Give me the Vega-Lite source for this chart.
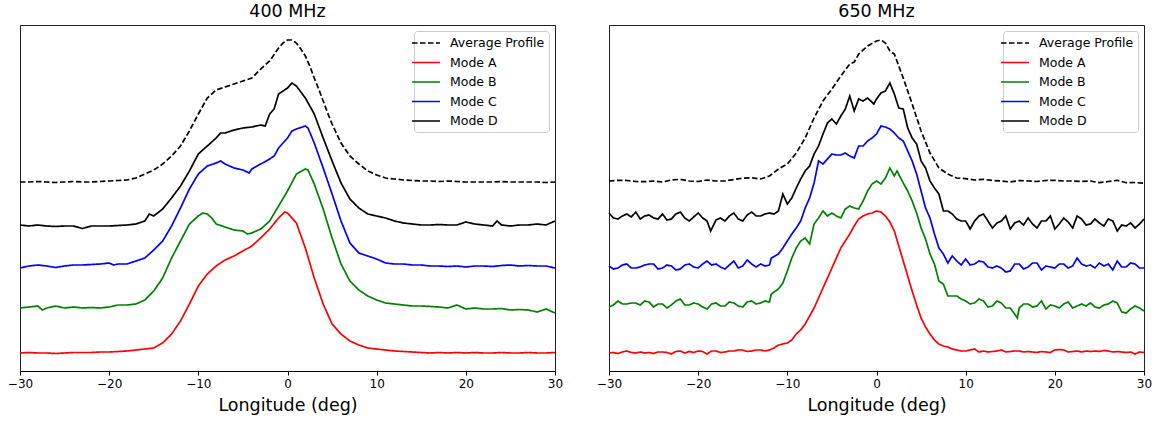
{
"$schema":"https://vega.github.io/schema/vega-lite/v6.json",
"padding":{"left":6,"top":2,"right":5,"bottom":4},
"bounds":"flush",
"spacing":54,
"config":{"font":"DejaVu Sans","view":{"stroke":"#222222","strokeWidth":1},
"title":{"fontWeight":"normal","fontSize":17.5,"color":"#000000"},
"legend":{"orient":"top-right","offset":6,"padding":4,"strokeColor":"#cccccc","fillColor":"rgba(255,255,255,0.8)","cornerRadius":3,"symbolType":"M-2,0H2","symbolSize":196,"symbolStrokeWidth":1.7,"labelFontSize":12.5,"labelColor":"#000000","labelOffset":16,"rowPadding":4.5}},
"resolve":{"scale":{"color":"independent","strokeDash":"independent","x":"independent","y":"independent"},"legend":{"color":"independent","strokeDash":"independent"}},
"datasets":{
"f400":[
{"s":"Average Profile","x":-30,"y":189},{"s":"Average Profile","x":-29,"y":189},{"s":"Average Profile","x":-28,"y":189.5},{"s":"Average Profile","x":-27,"y":189},{"s":"Average Profile","x":-26,"y":188.5},{"s":"Average Profile","x":-25,"y":189},{"s":"Average Profile","x":-24,"y":189.5},{"s":"Average Profile","x":-23,"y":189},{"s":"Average Profile","x":-22,"y":189},{"s":"Average Profile","x":-21,"y":189.5},{"s":"Average Profile","x":-20,"y":190},{"s":"Average Profile","x":-19,"y":190.5},{"s":"Average Profile","x":-18,"y":191},{"s":"Average Profile","x":-17,"y":193},{"s":"Average Profile","x":-16,"y":197},{"s":"Average Profile","x":-15,"y":201},{"s":"Average Profile","x":-14,"y":207},{"s":"Average Profile","x":-13,"y":215},{"s":"Average Profile","x":-12,"y":225},{"s":"Average Profile","x":-11,"y":240},{"s":"Average Profile","x":-10,"y":257},{"s":"Average Profile","x":-9,"y":273},{"s":"Average Profile","x":-8,"y":281},{"s":"Average Profile","x":-7,"y":284},{"s":"Average Profile","x":-6,"y":287},{"s":"Average Profile","x":-5,"y":290},{"s":"Average Profile","x":-4,"y":293},{"s":"Average Profile","x":-3,"y":302},{"s":"Average Profile","x":-2,"y":310},{"s":"Average Profile","x":-1,"y":323},{"s":"Average Profile","x":-0.5,"y":328},{"s":"Average Profile","x":0,"y":331},{"s":"Average Profile","x":0.5,"y":331},{"s":"Average Profile","x":1,"y":328},{"s":"Average Profile","x":1.5,"y":322},{"s":"Average Profile","x":2,"y":315},{"s":"Average Profile","x":2.5,"y":305},{"s":"Average Profile","x":3,"y":293},{"s":"Average Profile","x":3.5,"y":282},{"s":"Average Profile","x":4,"y":270},{"s":"Average Profile","x":4.5,"y":258},{"s":"Average Profile","x":5,"y":247},{"s":"Average Profile","x":6,"y":228},{"s":"Average Profile","x":7,"y":215},{"s":"Average Profile","x":8,"y":207},{"s":"Average Profile","x":9,"y":200},{"s":"Average Profile","x":10,"y":196},{"s":"Average Profile","x":11,"y":193},{"s":"Average Profile","x":12,"y":192},{"s":"Average Profile","x":13,"y":191},{"s":"Average Profile","x":14,"y":190.5},{"s":"Average Profile","x":15,"y":190},{"s":"Average Profile","x":16,"y":190},{"s":"Average Profile","x":17,"y":189.5},{"s":"Average Profile","x":18,"y":190},{"s":"Average Profile","x":19,"y":189.5},{"s":"Average Profile","x":20,"y":189},{"s":"Average Profile","x":21,"y":189},{"s":"Average Profile","x":22,"y":189},{"s":"Average Profile","x":23,"y":189},{"s":"Average Profile","x":24,"y":189.5},{"s":"Average Profile","x":25,"y":189},{"s":"Average Profile","x":26,"y":189},{"s":"Average Profile","x":27,"y":189},{"s":"Average Profile","x":28,"y":189},{"s":"Average Profile","x":29,"y":188.5},{"s":"Average Profile","x":30,"y":189},
{"s":"Mode D","x":-30,"y":146},{"s":"Mode D","x":-29,"y":145},{"s":"Mode D","x":-28,"y":146},{"s":"Mode D","x":-27,"y":145},{"s":"Mode D","x":-26,"y":144.5},{"s":"Mode D","x":-25,"y":145},{"s":"Mode D","x":-24,"y":145},{"s":"Mode D","x":-23,"y":142.5},{"s":"Mode D","x":-22,"y":145},{"s":"Mode D","x":-21,"y":145},{"s":"Mode D","x":-20,"y":145},{"s":"Mode D","x":-19,"y":145.5},{"s":"Mode D","x":-18,"y":146},{"s":"Mode D","x":-17,"y":147},{"s":"Mode D","x":-16,"y":150},{"s":"Mode D","x":-15.5,"y":157},{"s":"Mode D","x":-15,"y":155},{"s":"Mode D","x":-14,"y":162},{"s":"Mode D","x":-13,"y":173},{"s":"Mode D","x":-12,"y":185},{"s":"Mode D","x":-11,"y":200},{"s":"Mode D","x":-10,"y":217},{"s":"Mode D","x":-9,"y":225},{"s":"Mode D","x":-8,"y":233},{"s":"Mode D","x":-7.5,"y":238},{"s":"Mode D","x":-7,"y":238},{"s":"Mode D","x":-6,"y":241},{"s":"Mode D","x":-5,"y":243},{"s":"Mode D","x":-4,"y":244},{"s":"Mode D","x":-3,"y":246},{"s":"Mode D","x":-2.5,"y":245},{"s":"Mode D","x":-2,"y":257},{"s":"Mode D","x":-1.5,"y":262},{"s":"Mode D","x":-1,"y":277},{"s":"Mode D","x":0,"y":283},{"s":"Mode D","x":0.5,"y":288},{"s":"Mode D","x":1,"y":285},{"s":"Mode D","x":2,"y":273},{"s":"Mode D","x":3,"y":257},{"s":"Mode D","x":4,"y":233},{"s":"Mode D","x":5,"y":210},{"s":"Mode D","x":6,"y":188},{"s":"Mode D","x":7,"y":172},{"s":"Mode D","x":8,"y":163},{"s":"Mode D","x":9,"y":157},{"s":"Mode D","x":10,"y":155},{"s":"Mode D","x":11,"y":153},{"s":"Mode D","x":12,"y":150},{"s":"Mode D","x":13,"y":148},{"s":"Mode D","x":14,"y":147},{"s":"Mode D","x":15,"y":146},{"s":"Mode D","x":16,"y":146},{"s":"Mode D","x":17,"y":146.5},{"s":"Mode D","x":18,"y":146},{"s":"Mode D","x":19,"y":146},{"s":"Mode D","x":20,"y":149},{"s":"Mode D","x":21,"y":147},{"s":"Mode D","x":22,"y":146},{"s":"Mode D","x":23,"y":145},{"s":"Mode D","x":23.5,"y":150},{"s":"Mode D","x":24,"y":146},{"s":"Mode D","x":25,"y":145},{"s":"Mode D","x":26,"y":146},{"s":"Mode D","x":27,"y":146},{"s":"Mode D","x":28,"y":147},{"s":"Mode D","x":29,"y":146},{"s":"Mode D","x":30,"y":150},
{"s":"Mode C","x":-30,"y":103},{"s":"Mode C","x":-29,"y":105},{"s":"Mode C","x":-28,"y":106},{"s":"Mode C","x":-27,"y":105},{"s":"Mode C","x":-26,"y":103.5},{"s":"Mode C","x":-25,"y":105},{"s":"Mode C","x":-24,"y":106},{"s":"Mode C","x":-23,"y":106},{"s":"Mode C","x":-22,"y":106.5},{"s":"Mode C","x":-21,"y":107},{"s":"Mode C","x":-20,"y":108},{"s":"Mode C","x":-19.5,"y":106},{"s":"Mode C","x":-19,"y":107},{"s":"Mode C","x":-18,"y":107},{"s":"Mode C","x":-17,"y":110},{"s":"Mode C","x":-16,"y":113},{"s":"Mode C","x":-15,"y":121},{"s":"Mode C","x":-14,"y":130},{"s":"Mode C","x":-13,"y":145},{"s":"Mode C","x":-12,"y":163},{"s":"Mode C","x":-11,"y":182},{"s":"Mode C","x":-10,"y":197},{"s":"Mode C","x":-9,"y":205},{"s":"Mode C","x":-8,"y":208},{"s":"Mode C","x":-7.5,"y":210},{"s":"Mode C","x":-7,"y":207},{"s":"Mode C","x":-6,"y":203},{"s":"Mode C","x":-5,"y":201},{"s":"Mode C","x":-4.3,"y":198},{"s":"Mode C","x":-4,"y":202},{"s":"Mode C","x":-3,"y":207},{"s":"Mode C","x":-2,"y":212},{"s":"Mode C","x":-1.5,"y":215},{"s":"Mode C","x":-1,"y":223},{"s":"Mode C","x":0,"y":233},{"s":"Mode C","x":0.5,"y":240},{"s":"Mode C","x":1,"y":242},{"s":"Mode C","x":2,"y":245},{"s":"Mode C","x":2.3,"y":243},{"s":"Mode C","x":3,"y":228},{"s":"Mode C","x":4,"y":203},{"s":"Mode C","x":5,"y":177},{"s":"Mode C","x":6,"y":150},{"s":"Mode C","x":7,"y":128},{"s":"Mode C","x":8,"y":118},{"s":"Mode C","x":9,"y":115},{"s":"Mode C","x":10,"y":112},{"s":"Mode C","x":11,"y":108},{"s":"Mode C","x":12,"y":107},{"s":"Mode C","x":13,"y":107},{"s":"Mode C","x":14,"y":106},{"s":"Mode C","x":15,"y":106},{"s":"Mode C","x":16,"y":105},{"s":"Mode C","x":17,"y":105},{"s":"Mode C","x":18,"y":104.5},{"s":"Mode C","x":19,"y":105},{"s":"Mode C","x":20,"y":104},{"s":"Mode C","x":21,"y":105},{"s":"Mode C","x":22,"y":105},{"s":"Mode C","x":23,"y":104.5},{"s":"Mode C","x":24,"y":105.5},{"s":"Mode C","x":25,"y":106},{"s":"Mode C","x":26,"y":105},{"s":"Mode C","x":27,"y":105.5},{"s":"Mode C","x":28,"y":105},{"s":"Mode C","x":29,"y":105},{"s":"Mode C","x":30,"y":103},
{"s":"Mode B","x":-30,"y":63},{"s":"Mode B","x":-29,"y":64},{"s":"Mode B","x":-28,"y":65},{"s":"Mode B","x":-27.5,"y":61},{"s":"Mode B","x":-27,"y":63},{"s":"Mode B","x":-26,"y":65},{"s":"Mode B","x":-25,"y":63},{"s":"Mode B","x":-24,"y":64},{"s":"Mode B","x":-23,"y":63},{"s":"Mode B","x":-22,"y":63.5},{"s":"Mode B","x":-21,"y":63},{"s":"Mode B","x":-20,"y":64},{"s":"Mode B","x":-19,"y":66},{"s":"Mode B","x":-18,"y":66},{"s":"Mode B","x":-17,"y":67},{"s":"Mode B","x":-16,"y":71},{"s":"Mode B","x":-15,"y":80},{"s":"Mode B","x":-14,"y":93},{"s":"Mode B","x":-13,"y":113},{"s":"Mode B","x":-12,"y":130},{"s":"Mode B","x":-11,"y":147},{"s":"Mode B","x":-10,"y":155},{"s":"Mode B","x":-9.5,"y":158},{"s":"Mode B","x":-9,"y":157},{"s":"Mode B","x":-8.5,"y":153},{"s":"Mode B","x":-8,"y":147},{"s":"Mode B","x":-7,"y":144},{"s":"Mode B","x":-6,"y":141},{"s":"Mode B","x":-5,"y":140},{"s":"Mode B","x":-4.5,"y":137},{"s":"Mode B","x":-4,"y":138},{"s":"Mode B","x":-3,"y":142},{"s":"Mode B","x":-2,"y":150},{"s":"Mode B","x":-1,"y":165},{"s":"Mode B","x":0,"y":180},{"s":"Mode B","x":1,"y":197},{"s":"Mode B","x":2,"y":202},{"s":"Mode B","x":2.3,"y":201},{"s":"Mode B","x":3,"y":187},{"s":"Mode B","x":4,"y":162},{"s":"Mode B","x":5,"y":133},{"s":"Mode B","x":6,"y":107},{"s":"Mode B","x":7,"y":90},{"s":"Mode B","x":8,"y":81},{"s":"Mode B","x":9,"y":75},{"s":"Mode B","x":10,"y":71},{"s":"Mode B","x":11,"y":68},{"s":"Mode B","x":12,"y":67},{"s":"Mode B","x":13,"y":66},{"s":"Mode B","x":14,"y":65},{"s":"Mode B","x":15,"y":65},{"s":"Mode B","x":16,"y":64.5},{"s":"Mode B","x":17,"y":64},{"s":"Mode B","x":18,"y":63},{"s":"Mode B","x":19,"y":66},{"s":"Mode B","x":20,"y":62},{"s":"Mode B","x":21,"y":63},{"s":"Mode B","x":22,"y":62},{"s":"Mode B","x":23,"y":62},{"s":"Mode B","x":24,"y":62.5},{"s":"Mode B","x":25,"y":61},{"s":"Mode B","x":26,"y":61.5},{"s":"Mode B","x":27,"y":61},{"s":"Mode B","x":28,"y":59},{"s":"Mode B","x":29,"y":62},{"s":"Mode B","x":30,"y":58},
{"s":"Mode A","x":-30,"y":18},{"s":"Mode A","x":-29,"y":18.5},{"s":"Mode A","x":-28,"y":18},{"s":"Mode A","x":-27,"y":18},{"s":"Mode A","x":-26,"y":17.5},{"s":"Mode A","x":-25,"y":18},{"s":"Mode A","x":-24,"y":18.5},{"s":"Mode A","x":-23,"y":18.5},{"s":"Mode A","x":-22,"y":18.5},{"s":"Mode A","x":-21,"y":19},{"s":"Mode A","x":-20,"y":19},{"s":"Mode A","x":-19,"y":19.5},{"s":"Mode A","x":-18,"y":20},{"s":"Mode A","x":-17,"y":21},{"s":"Mode A","x":-16,"y":22},{"s":"Mode A","x":-15,"y":23},{"s":"Mode A","x":-14,"y":28},{"s":"Mode A","x":-13,"y":37},{"s":"Mode A","x":-12,"y":50},{"s":"Mode A","x":-11,"y":67},{"s":"Mode A","x":-10,"y":85},{"s":"Mode A","x":-9,"y":97},{"s":"Mode A","x":-8,"y":105},{"s":"Mode A","x":-7,"y":111},{"s":"Mode A","x":-6,"y":115},{"s":"Mode A","x":-5,"y":120},{"s":"Mode A","x":-4,"y":125},{"s":"Mode A","x":-3,"y":133},{"s":"Mode A","x":-2,"y":142},{"s":"Mode A","x":-1,"y":153},{"s":"Mode A","x":-0.3,"y":159},{"s":"Mode A","x":0,"y":158},{"s":"Mode A","x":1,"y":148},{"s":"Mode A","x":2,"y":123},{"s":"Mode A","x":3,"y":93},{"s":"Mode A","x":4,"y":67},{"s":"Mode A","x":5,"y":47},{"s":"Mode A","x":6,"y":37},{"s":"Mode A","x":7,"y":30},{"s":"Mode A","x":8,"y":26},{"s":"Mode A","x":9,"y":23},{"s":"Mode A","x":10,"y":22},{"s":"Mode A","x":11,"y":21},{"s":"Mode A","x":12,"y":20},{"s":"Mode A","x":13,"y":19.5},{"s":"Mode A","x":14,"y":19},{"s":"Mode A","x":15,"y":18.5},{"s":"Mode A","x":16,"y":18},{"s":"Mode A","x":17,"y":18.5},{"s":"Mode A","x":18,"y":18},{"s":"Mode A","x":19,"y":18.5},{"s":"Mode A","x":20,"y":18},{"s":"Mode A","x":21,"y":18.5},{"s":"Mode A","x":22,"y":18},{"s":"Mode A","x":23,"y":18},{"s":"Mode A","x":24,"y":18.5},{"s":"Mode A","x":25,"y":18},{"s":"Mode A","x":26,"y":18},{"s":"Mode A","x":27,"y":18.5},{"s":"Mode A","x":28,"y":18},{"s":"Mode A","x":29,"y":18},{"s":"Mode A","x":30,"y":18.5}
],
"f650":[
{"s":"Average Profile","x":-30,"y":190},{"s":"Average Profile","x":-29,"y":190.7},{"s":"Average Profile","x":-28,"y":190.5},{"s":"Average Profile","x":-27,"y":189.5},{"s":"Average Profile","x":-26,"y":189.3},{"s":"Average Profile","x":-25,"y":190},{"s":"Average Profile","x":-24,"y":189},{"s":"Average Profile","x":-23,"y":191},{"s":"Average Profile","x":-22,"y":191.7},{"s":"Average Profile","x":-21,"y":190},{"s":"Average Profile","x":-20,"y":189.5},{"s":"Average Profile","x":-19,"y":191},{"s":"Average Profile","x":-18,"y":190},{"s":"Average Profile","x":-17,"y":190},{"s":"Average Profile","x":-16,"y":191.5},{"s":"Average Profile","x":-15,"y":192.7},{"s":"Average Profile","x":-14,"y":193.3},{"s":"Average Profile","x":-13,"y":192},{"s":"Average Profile","x":-12,"y":195},{"s":"Average Profile","x":-11,"y":202},{"s":"Average Profile","x":-10,"y":207},{"s":"Average Profile","x":-9,"y":218},{"s":"Average Profile","x":-8,"y":233},{"s":"Average Profile","x":-7,"y":253},{"s":"Average Profile","x":-6,"y":270},{"s":"Average Profile","x":-5,"y":282},{"s":"Average Profile","x":-4,"y":295},{"s":"Average Profile","x":-3,"y":307},{"s":"Average Profile","x":-2.5,"y":309},{"s":"Average Profile","x":-2,"y":317},{"s":"Average Profile","x":-1,"y":325},{"s":"Average Profile","x":0,"y":330},{"s":"Average Profile","x":0.5,"y":331},{"s":"Average Profile","x":1,"y":328},{"s":"Average Profile","x":1.5,"y":320},{"s":"Average Profile","x":2,"y":317},{"s":"Average Profile","x":3,"y":293},{"s":"Average Profile","x":4,"y":267},{"s":"Average Profile","x":5,"y":240},{"s":"Average Profile","x":6,"y":218},{"s":"Average Profile","x":7,"y":203},{"s":"Average Profile","x":8,"y":197},{"s":"Average Profile","x":9,"y":193},{"s":"Average Profile","x":10,"y":192.3},{"s":"Average Profile","x":11,"y":191},{"s":"Average Profile","x":12,"y":191.7},{"s":"Average Profile","x":13,"y":190.5},{"s":"Average Profile","x":14,"y":190},{"s":"Average Profile","x":15,"y":189},{"s":"Average Profile","x":16,"y":190.5},{"s":"Average Profile","x":17,"y":190},{"s":"Average Profile","x":18,"y":189.5},{"s":"Average Profile","x":19,"y":190.5},{"s":"Average Profile","x":20,"y":190.7},{"s":"Average Profile","x":21,"y":190},{"s":"Average Profile","x":22,"y":190},{"s":"Average Profile","x":23,"y":189.5},{"s":"Average Profile","x":24,"y":190},{"s":"Average Profile","x":25,"y":188.3},{"s":"Average Profile","x":26,"y":189.5},{"s":"Average Profile","x":27,"y":190.7},{"s":"Average Profile","x":28,"y":188.3},{"s":"Average Profile","x":29,"y":188.5},{"s":"Average Profile","x":30,"y":187.7},
{"s":"Mode D","x":-30,"y":158},{"s":"Mode D","x":-29.5,"y":153},{"s":"Mode D","x":-29,"y":152},{"s":"Mode D","x":-28.5,"y":155},{"s":"Mode D","x":-28,"y":157},{"s":"Mode D","x":-27.5,"y":154},{"s":"Mode D","x":-27,"y":159},{"s":"Mode D","x":-26.5,"y":152},{"s":"Mode D","x":-26,"y":155},{"s":"Mode D","x":-25.5,"y":156},{"s":"Mode D","x":-25,"y":153},{"s":"Mode D","x":-24.5,"y":152},{"s":"Mode D","x":-24,"y":157},{"s":"Mode D","x":-23.5,"y":151},{"s":"Mode D","x":-23,"y":152},{"s":"Mode D","x":-22.5,"y":157},{"s":"Mode D","x":-22,"y":159},{"s":"Mode D","x":-21.5,"y":153},{"s":"Mode D","x":-21,"y":150},{"s":"Mode D","x":-20.5,"y":154},{"s":"Mode D","x":-20,"y":158},{"s":"Mode D","x":-19.5,"y":153},{"s":"Mode D","x":-19,"y":150},{"s":"Mode D","x":-18.6,"y":140},{"s":"Mode D","x":-18,"y":151},{"s":"Mode D","x":-17.5,"y":153},{"s":"Mode D","x":-17,"y":150},{"s":"Mode D","x":-16.5,"y":155},{"s":"Mode D","x":-16,"y":158},{"s":"Mode D","x":-15.5,"y":152},{"s":"Mode D","x":-15,"y":150},{"s":"Mode D","x":-14.5,"y":156},{"s":"Mode D","x":-14,"y":159},{"s":"Mode D","x":-13.5,"y":155},{"s":"Mode D","x":-13,"y":155},{"s":"Mode D","x":-12.5,"y":157},{"s":"Mode D","x":-12,"y":158},{"s":"Mode D","x":-11.5,"y":157},{"s":"Mode D","x":-11,"y":160},{"s":"Mode D","x":-10.5,"y":177},{"s":"Mode D","x":-10,"y":167},{"s":"Mode D","x":-9.5,"y":173},{"s":"Mode D","x":-9,"y":183},{"s":"Mode D","x":-8.5,"y":192},{"s":"Mode D","x":-8,"y":200},{"s":"Mode D","x":-7.5,"y":205},{"s":"Mode D","x":-7,"y":217},{"s":"Mode D","x":-6.5,"y":225},{"s":"Mode D","x":-6,"y":237},{"s":"Mode D","x":-5.5,"y":248},{"s":"Mode D","x":-5,"y":252},{"s":"Mode D","x":-4.5,"y":247},{"s":"Mode D","x":-4,"y":255},{"s":"Mode D","x":-3.5,"y":262},{"s":"Mode D","x":-3,"y":275},{"s":"Mode D","x":-2.5,"y":260},{"s":"Mode D","x":-2,"y":272},{"s":"Mode D","x":-1.5,"y":270},{"s":"Mode D","x":-1,"y":273},{"s":"Mode D","x":-0.3,"y":267},{"s":"Mode D","x":0,"y":272},{"s":"Mode D","x":0.5,"y":278},{"s":"Mode D","x":1,"y":280},{"s":"Mode D","x":1.5,"y":288},{"s":"Mode D","x":2,"y":277},{"s":"Mode D","x":2.5,"y":263},{"s":"Mode D","x":3,"y":262},{"s":"Mode D","x":3.5,"y":243},{"s":"Mode D","x":4,"y":233},{"s":"Mode D","x":4.5,"y":227},{"s":"Mode D","x":5,"y":210},{"s":"Mode D","x":5.5,"y":203},{"s":"Mode D","x":6,"y":190},{"s":"Mode D","x":6.5,"y":183},{"s":"Mode D","x":7,"y":177},{"s":"Mode D","x":7.5,"y":160},{"s":"Mode D","x":8,"y":160},{"s":"Mode D","x":8.5,"y":157},{"s":"Mode D","x":9,"y":152},{"s":"Mode D","x":9.5,"y":150},{"s":"Mode D","x":10,"y":150},{"s":"Mode D","x":10.5,"y":142},{"s":"Mode D","x":11,"y":150},{"s":"Mode D","x":11.5,"y":155},{"s":"Mode D","x":12,"y":157},{"s":"Mode D","x":12.5,"y":150},{"s":"Mode D","x":13,"y":143},{"s":"Mode D","x":13.5,"y":148},{"s":"Mode D","x":14,"y":150},{"s":"Mode D","x":14.5,"y":155},{"s":"Mode D","x":15,"y":142},{"s":"Mode D","x":15.5,"y":148},{"s":"Mode D","x":16,"y":150},{"s":"Mode D","x":16.5,"y":146},{"s":"Mode D","x":17,"y":153},{"s":"Mode D","x":17.5,"y":147},{"s":"Mode D","x":18,"y":143},{"s":"Mode D","x":18.5,"y":150},{"s":"Mode D","x":19,"y":150},{"s":"Mode D","x":19.5,"y":155},{"s":"Mode D","x":20,"y":142},{"s":"Mode D","x":20.5,"y":147},{"s":"Mode D","x":21,"y":153},{"s":"Mode D","x":21.5,"y":149},{"s":"Mode D","x":22,"y":143},{"s":"Mode D","x":22.5,"y":155},{"s":"Mode D","x":23,"y":152},{"s":"Mode D","x":23.5,"y":146},{"s":"Mode D","x":24,"y":147},{"s":"Mode D","x":24.5,"y":152},{"s":"Mode D","x":25,"y":148},{"s":"Mode D","x":25.5,"y":145},{"s":"Mode D","x":26,"y":152},{"s":"Mode D","x":26.5,"y":150},{"s":"Mode D","x":27,"y":140},{"s":"Mode D","x":27.5,"y":146},{"s":"Mode D","x":28,"y":145},{"s":"Mode D","x":28.5,"y":148},{"s":"Mode D","x":29,"y":143},{"s":"Mode D","x":29.5,"y":147},{"s":"Mode D","x":30,"y":152},
{"s":"Mode C","x":-30,"y":105},{"s":"Mode C","x":-29.5,"y":102},{"s":"Mode C","x":-29,"y":103},{"s":"Mode C","x":-28.5,"y":106},{"s":"Mode C","x":-28,"y":107},{"s":"Mode C","x":-27.5,"y":103},{"s":"Mode C","x":-27,"y":103},{"s":"Mode C","x":-26.5,"y":104},{"s":"Mode C","x":-26,"y":106},{"s":"Mode C","x":-25.5,"y":107},{"s":"Mode C","x":-25,"y":107},{"s":"Mode C","x":-24.5,"y":102},{"s":"Mode C","x":-24,"y":103},{"s":"Mode C","x":-23.5,"y":106},{"s":"Mode C","x":-23,"y":105},{"s":"Mode C","x":-22.5,"y":101},{"s":"Mode C","x":-22,"y":102},{"s":"Mode C","x":-21.5,"y":106},{"s":"Mode C","x":-21,"y":107},{"s":"Mode C","x":-20.5,"y":104},{"s":"Mode C","x":-20,"y":103},{"s":"Mode C","x":-19.5,"y":107},{"s":"Mode C","x":-19,"y":110},{"s":"Mode C","x":-18.5,"y":106},{"s":"Mode C","x":-18,"y":107},{"s":"Mode C","x":-17.5,"y":104},{"s":"Mode C","x":-17,"y":102},{"s":"Mode C","x":-16.5,"y":106},{"s":"Mode C","x":-16,"y":110},{"s":"Mode C","x":-15.5,"y":103},{"s":"Mode C","x":-15,"y":105},{"s":"Mode C","x":-14.5,"y":111},{"s":"Mode C","x":-14,"y":107},{"s":"Mode C","x":-13.5,"y":104},{"s":"Mode C","x":-13,"y":107},{"s":"Mode C","x":-12.5,"y":105},{"s":"Mode C","x":-12,"y":106},{"s":"Mode C","x":-11.8,"y":113},{"s":"Mode C","x":-11,"y":117},{"s":"Mode C","x":-10.5,"y":123},{"s":"Mode C","x":-10,"y":130},{"s":"Mode C","x":-9.5,"y":137},{"s":"Mode C","x":-9,"y":143},{"s":"Mode C","x":-8.5,"y":150},{"s":"Mode C","x":-8,"y":163},{"s":"Mode C","x":-7.5,"y":173},{"s":"Mode C","x":-7,"y":188},{"s":"Mode C","x":-6.5,"y":210},{"s":"Mode C","x":-6,"y":207},{"s":"Mode C","x":-5.5,"y":212},{"s":"Mode C","x":-5,"y":217},{"s":"Mode C","x":-4.5,"y":216},{"s":"Mode C","x":-4,"y":216},{"s":"Mode C","x":-3.5,"y":218},{"s":"Mode C","x":-3,"y":215},{"s":"Mode C","x":-2.5,"y":213},{"s":"Mode C","x":-2,"y":225},{"s":"Mode C","x":-1.5,"y":225},{"s":"Mode C","x":-1,"y":230},{"s":"Mode C","x":-0.5,"y":233},{"s":"Mode C","x":0,"y":237},{"s":"Mode C","x":0.5,"y":245},{"s":"Mode C","x":1,"y":244},{"s":"Mode C","x":1.5,"y":242},{"s":"Mode C","x":2,"y":238},{"s":"Mode C","x":2.5,"y":233},{"s":"Mode C","x":3,"y":230},{"s":"Mode C","x":3.5,"y":220},{"s":"Mode C","x":4,"y":210},{"s":"Mode C","x":4.5,"y":197},{"s":"Mode C","x":5,"y":180},{"s":"Mode C","x":5.5,"y":163},{"s":"Mode C","x":6,"y":153},{"s":"Mode C","x":6.5,"y":137},{"s":"Mode C","x":7,"y":123},{"s":"Mode C","x":7.5,"y":117},{"s":"Mode C","x":8,"y":108},{"s":"Mode C","x":8.5,"y":115},{"s":"Mode C","x":9,"y":110},{"s":"Mode C","x":9.5,"y":106},{"s":"Mode C","x":10,"y":112},{"s":"Mode C","x":10.5,"y":106},{"s":"Mode C","x":11,"y":107},{"s":"Mode C","x":11.5,"y":110},{"s":"Mode C","x":12,"y":109},{"s":"Mode C","x":12.5,"y":104},{"s":"Mode C","x":13,"y":103},{"s":"Mode C","x":13.5,"y":105},{"s":"Mode C","x":14,"y":103},{"s":"Mode C","x":14.5,"y":99},{"s":"Mode C","x":15,"y":100},{"s":"Mode C","x":15.5,"y":107},{"s":"Mode C","x":16,"y":107},{"s":"Mode C","x":16.5,"y":102},{"s":"Mode C","x":17,"y":104},{"s":"Mode C","x":17.5,"y":108},{"s":"Mode C","x":18,"y":108},{"s":"Mode C","x":18.5,"y":101},{"s":"Mode C","x":19,"y":105},{"s":"Mode C","x":19.5,"y":104},{"s":"Mode C","x":20,"y":103},{"s":"Mode C","x":20.5,"y":107},{"s":"Mode C","x":21,"y":107},{"s":"Mode C","x":21.5,"y":103},{"s":"Mode C","x":22,"y":105},{"s":"Mode C","x":22.5,"y":113},{"s":"Mode C","x":23,"y":107},{"s":"Mode C","x":23.5,"y":105},{"s":"Mode C","x":24,"y":106},{"s":"Mode C","x":24.5,"y":103},{"s":"Mode C","x":25,"y":108},{"s":"Mode C","x":25.5,"y":105},{"s":"Mode C","x":26,"y":107},{"s":"Mode C","x":26.5,"y":101},{"s":"Mode C","x":27,"y":110},{"s":"Mode C","x":27.5,"y":104},{"s":"Mode C","x":28,"y":104},{"s":"Mode C","x":28.5,"y":108},{"s":"Mode C","x":29,"y":107},{"s":"Mode C","x":29.5,"y":103},{"s":"Mode C","x":30,"y":103},
{"s":"Mode B","x":-30,"y":64},{"s":"Mode B","x":-29.5,"y":66},{"s":"Mode B","x":-29,"y":70},{"s":"Mode B","x":-28.5,"y":67},{"s":"Mode B","x":-28,"y":67},{"s":"Mode B","x":-27.5,"y":68},{"s":"Mode B","x":-27,"y":68},{"s":"Mode B","x":-26.5,"y":66},{"s":"Mode B","x":-26,"y":70},{"s":"Mode B","x":-25.5,"y":69},{"s":"Mode B","x":-25,"y":64},{"s":"Mode B","x":-24.5,"y":67},{"s":"Mode B","x":-24,"y":67},{"s":"Mode B","x":-23.5,"y":63},{"s":"Mode B","x":-23,"y":66},{"s":"Mode B","x":-22.5,"y":70},{"s":"Mode B","x":-22,"y":72},{"s":"Mode B","x":-21.5,"y":66},{"s":"Mode B","x":-21,"y":66},{"s":"Mode B","x":-20.5,"y":68},{"s":"Mode B","x":-20,"y":67},{"s":"Mode B","x":-19.5,"y":64},{"s":"Mode B","x":-19,"y":62},{"s":"Mode B","x":-18.5,"y":67},{"s":"Mode B","x":-18,"y":68},{"s":"Mode B","x":-17.5,"y":65},{"s":"Mode B","x":-17,"y":65},{"s":"Mode B","x":-16.5,"y":69},{"s":"Mode B","x":-16,"y":68},{"s":"Mode B","x":-15.5,"y":65},{"s":"Mode B","x":-15,"y":64},{"s":"Mode B","x":-14.5,"y":69},{"s":"Mode B","x":-14,"y":70},{"s":"Mode B","x":-13.5,"y":67},{"s":"Mode B","x":-13,"y":68},{"s":"Mode B","x":-12.5,"y":70},{"s":"Mode B","x":-12,"y":69},{"s":"Mode B","x":-11.8,"y":77},{"s":"Mode B","x":-11,"y":82},{"s":"Mode B","x":-10.5,"y":88},{"s":"Mode B","x":-10,"y":100},{"s":"Mode B","x":-9.5,"y":113},{"s":"Mode B","x":-9,"y":123},{"s":"Mode B","x":-8.5,"y":130},{"s":"Mode B","x":-8,"y":133},{"s":"Mode B","x":-7.5,"y":127},{"s":"Mode B","x":-7,"y":147},{"s":"Mode B","x":-6.5,"y":153},{"s":"Mode B","x":-6,"y":160},{"s":"Mode B","x":-5.5,"y":155},{"s":"Mode B","x":-5,"y":158},{"s":"Mode B","x":-4.5,"y":155},{"s":"Mode B","x":-4,"y":153},{"s":"Mode B","x":-3.5,"y":162},{"s":"Mode B","x":-3,"y":165},{"s":"Mode B","x":-2.5,"y":163},{"s":"Mode B","x":-2,"y":162},{"s":"Mode B","x":-1.5,"y":170},{"s":"Mode B","x":-1,"y":180},{"s":"Mode B","x":-0.5,"y":187},{"s":"Mode B","x":0,"y":190},{"s":"Mode B","x":0.5,"y":187},{"s":"Mode B","x":1,"y":193},{"s":"Mode B","x":1.5,"y":203},{"s":"Mode B","x":2,"y":195},{"s":"Mode B","x":2.3,"y":200},{"s":"Mode B","x":3,"y":188},{"s":"Mode B","x":3.5,"y":180},{"s":"Mode B","x":4,"y":170},{"s":"Mode B","x":4.5,"y":158},{"s":"Mode B","x":5,"y":143},{"s":"Mode B","x":5.5,"y":132},{"s":"Mode B","x":6,"y":117},{"s":"Mode B","x":6.5,"y":107},{"s":"Mode B","x":7,"y":90},{"s":"Mode B","x":7.5,"y":87},{"s":"Mode B","x":8,"y":75},{"s":"Mode B","x":8.5,"y":75},{"s":"Mode B","x":9,"y":75},{"s":"Mode B","x":9.5,"y":72},{"s":"Mode B","x":10,"y":70},{"s":"Mode B","x":10.5,"y":67},{"s":"Mode B","x":11,"y":68},{"s":"Mode B","x":11.5,"y":72},{"s":"Mode B","x":12,"y":70},{"s":"Mode B","x":12.5,"y":64},{"s":"Mode B","x":13,"y":65},{"s":"Mode B","x":13.5,"y":70},{"s":"Mode B","x":14,"y":68},{"s":"Mode B","x":14.5,"y":63},{"s":"Mode B","x":15,"y":63},{"s":"Mode B","x":15.8,"y":53},{"s":"Mode B","x":16,"y":63},{"s":"Mode B","x":16.5,"y":67},{"s":"Mode B","x":17,"y":67},{"s":"Mode B","x":17.5,"y":64},{"s":"Mode B","x":18,"y":65},{"s":"Mode B","x":18.5,"y":70},{"s":"Mode B","x":19,"y":62},{"s":"Mode B","x":19.5,"y":66},{"s":"Mode B","x":20,"y":65},{"s":"Mode B","x":20.5,"y":63},{"s":"Mode B","x":21,"y":67},{"s":"Mode B","x":21.5,"y":69},{"s":"Mode B","x":22,"y":63},{"s":"Mode B","x":22.5,"y":65},{"s":"Mode B","x":23,"y":67},{"s":"Mode B","x":23.5,"y":65},{"s":"Mode B","x":24,"y":68},{"s":"Mode B","x":24.5,"y":64},{"s":"Mode B","x":25,"y":63},{"s":"Mode B","x":25.5,"y":66},{"s":"Mode B","x":26,"y":67},{"s":"Mode B","x":26.5,"y":70},{"s":"Mode B","x":27,"y":68},{"s":"Mode B","x":27.5,"y":59},{"s":"Mode B","x":28,"y":58},{"s":"Mode B","x":28.5,"y":62},{"s":"Mode B","x":29,"y":65},{"s":"Mode B","x":29.5,"y":63},{"s":"Mode B","x":30,"y":60},
{"s":"Mode A","x":-30,"y":18},{"s":"Mode A","x":-29.5,"y":18.5},{"s":"Mode A","x":-29,"y":17.5},{"s":"Mode A","x":-28.5,"y":19},{"s":"Mode A","x":-28,"y":20},{"s":"Mode A","x":-27.5,"y":18.5},{"s":"Mode A","x":-27,"y":18},{"s":"Mode A","x":-26.5,"y":19},{"s":"Mode A","x":-26,"y":18},{"s":"Mode A","x":-25.5,"y":18.5},{"s":"Mode A","x":-25,"y":17.5},{"s":"Mode A","x":-24.5,"y":19},{"s":"Mode A","x":-24,"y":19},{"s":"Mode A","x":-23.5,"y":18.5},{"s":"Mode A","x":-23,"y":17},{"s":"Mode A","x":-22.5,"y":19.5},{"s":"Mode A","x":-22,"y":20},{"s":"Mode A","x":-21.5,"y":18},{"s":"Mode A","x":-21,"y":19.5},{"s":"Mode A","x":-20.5,"y":18.5},{"s":"Mode A","x":-20,"y":20},{"s":"Mode A","x":-19.5,"y":19.5},{"s":"Mode A","x":-19,"y":17},{"s":"Mode A","x":-18.5,"y":20},{"s":"Mode A","x":-18,"y":20},{"s":"Mode A","x":-17.5,"y":18.5},{"s":"Mode A","x":-17,"y":19},{"s":"Mode A","x":-16.5,"y":20},{"s":"Mode A","x":-16,"y":20},{"s":"Mode A","x":-15.5,"y":21},{"s":"Mode A","x":-15,"y":21},{"s":"Mode A","x":-14.5,"y":19.5},{"s":"Mode A","x":-14,"y":20},{"s":"Mode A","x":-13.5,"y":21},{"s":"Mode A","x":-13,"y":21},{"s":"Mode A","x":-12.5,"y":20},{"s":"Mode A","x":-12,"y":21},{"s":"Mode A","x":-11.5,"y":23},{"s":"Mode A","x":-11,"y":26},{"s":"Mode A","x":-10.5,"y":27},{"s":"Mode A","x":-10,"y":28},{"s":"Mode A","x":-9.5,"y":31},{"s":"Mode A","x":-9,"y":37},{"s":"Mode A","x":-8.5,"y":41},{"s":"Mode A","x":-8,"y":47},{"s":"Mode A","x":-7.5,"y":55},{"s":"Mode A","x":-7,"y":63},{"s":"Mode A","x":-6.5,"y":73},{"s":"Mode A","x":-6,"y":83},{"s":"Mode A","x":-5.5,"y":93},{"s":"Mode A","x":-5,"y":103},{"s":"Mode A","x":-4.5,"y":113},{"s":"Mode A","x":-4,"y":123},{"s":"Mode A","x":-3.5,"y":130},{"s":"Mode A","x":-3,"y":137},{"s":"Mode A","x":-2.5,"y":145},{"s":"Mode A","x":-2,"y":152},{"s":"Mode A","x":-1.5,"y":155},{"s":"Mode A","x":-1,"y":157},{"s":"Mode A","x":-0.5,"y":158},{"s":"Mode A","x":0,"y":160},{"s":"Mode A","x":0.5,"y":159},{"s":"Mode A","x":1,"y":155},{"s":"Mode A","x":1.5,"y":149},{"s":"Mode A","x":2,"y":140},{"s":"Mode A","x":2.5,"y":125},{"s":"Mode A","x":3,"y":110},{"s":"Mode A","x":3.5,"y":95},{"s":"Mode A","x":4,"y":80},{"s":"Mode A","x":4.5,"y":66},{"s":"Mode A","x":5,"y":53},{"s":"Mode A","x":5.5,"y":44},{"s":"Mode A","x":6,"y":37},{"s":"Mode A","x":6.5,"y":31},{"s":"Mode A","x":7,"y":27},{"s":"Mode A","x":7.5,"y":25},{"s":"Mode A","x":8,"y":24},{"s":"Mode A","x":8.5,"y":22},{"s":"Mode A","x":9,"y":21},{"s":"Mode A","x":9.5,"y":20},{"s":"Mode A","x":10,"y":20},{"s":"Mode A","x":10.5,"y":21},{"s":"Mode A","x":11,"y":22},{"s":"Mode A","x":11.5,"y":19},{"s":"Mode A","x":12,"y":20},{"s":"Mode A","x":12.5,"y":19},{"s":"Mode A","x":13,"y":19.5},{"s":"Mode A","x":13.5,"y":20},{"s":"Mode A","x":14,"y":21},{"s":"Mode A","x":14.5,"y":19},{"s":"Mode A","x":15,"y":19.5},{"s":"Mode A","x":15.5,"y":20},{"s":"Mode A","x":16,"y":20},{"s":"Mode A","x":16.5,"y":19},{"s":"Mode A","x":17,"y":19.5},{"s":"Mode A","x":17.5,"y":19},{"s":"Mode A","x":18,"y":18.5},{"s":"Mode A","x":18.5,"y":19.5},{"s":"Mode A","x":19,"y":19},{"s":"Mode A","x":19.5,"y":18.5},{"s":"Mode A","x":20,"y":21},{"s":"Mode A","x":20.5,"y":21.5},{"s":"Mode A","x":21,"y":21},{"s":"Mode A","x":21.5,"y":19},{"s":"Mode A","x":22,"y":19.5},{"s":"Mode A","x":22.5,"y":20},{"s":"Mode A","x":23,"y":19},{"s":"Mode A","x":23.5,"y":20},{"s":"Mode A","x":24,"y":19.5},{"s":"Mode A","x":24.5,"y":20},{"s":"Mode A","x":25,"y":19.5},{"s":"Mode A","x":25.5,"y":20.5},{"s":"Mode A","x":26,"y":20},{"s":"Mode A","x":26.5,"y":19},{"s":"Mode A","x":27,"y":19.5},{"s":"Mode A","x":27.5,"y":19},{"s":"Mode A","x":28,"y":18.5},{"s":"Mode A","x":28.5,"y":19},{"s":"Mode A","x":29,"y":17},{"s":"Mode A","x":29.5,"y":19},{"s":"Mode A","x":30,"y":18.5}
]},
"hconcat":[
{"width":535,"height":346,
"title":{"text":"400 MHz","fontSize":17.5,"fontWeight":"normal","color":"#000000","offset":5},
"data":{"name":"f400"},
"mark":{"type":"line","strokeWidth":1.7},
"encoding":{
"x":{"field":"x","type":"quantitative","scale":{"domain":[-30,30],"nice":false,"zero":false},"axis":{"values":[-30,-20,-10,0,10,20,30],"title":"Longitude (deg)","grid":false,"tickSize":4,"labelPadding":3,"labelFontSize":12,"titleFontSize":17.5,"titleFontWeight":"normal","titlePadding":7,"domainColor":"#000000","tickColor":"#000000","labelColor":"#000000","titleColor":"#000000","labelFlush":false,"labelOverlap":false}},
"y":{"field":"y","type":"quantitative","scale":{"domain":[0,346],"nice":false,"zero":false},"axis":null},
"color":{"field":"s","type":"nominal","scale":{"domain":["Average Profile","Mode A","Mode B","Mode C","Mode D"],"range":["#000000","#ff0000","#008000","#0000ff","#000000"]},"legend":{"title":null}},
"strokeDash":{"field":"s","type":"nominal","scale":{"domain":["Average Profile","Mode A","Mode B","Mode C","Mode D"],"range":[[5.5,2.5],[1,0],[1,0],[1,0],[1,0]]},"legend":{"title":null}}
}},
{"width":535,"height":346,
"title":{"text":"650 MHz","fontSize":17.5,"fontWeight":"normal","color":"#000000","offset":5},
"data":{"name":"f650"},
"mark":{"type":"line","strokeWidth":1.7},
"encoding":{
"x":{"field":"x","type":"quantitative","scale":{"domain":[-30,30],"nice":false,"zero":false},"axis":{"values":[-30,-20,-10,0,10,20,30],"title":"Longitude (deg)","grid":false,"tickSize":4,"labelPadding":3,"labelFontSize":12,"titleFontSize":17.5,"titleFontWeight":"normal","titlePadding":7,"domainColor":"#000000","tickColor":"#000000","labelColor":"#000000","titleColor":"#000000","labelFlush":false,"labelOverlap":false}},
"y":{"field":"y","type":"quantitative","scale":{"domain":[0,346],"nice":false,"zero":false},"axis":null},
"color":{"field":"s","type":"nominal","scale":{"domain":["Average Profile","Mode A","Mode B","Mode C","Mode D"],"range":["#000000","#ff0000","#008000","#0000ff","#000000"]},"legend":{"title":null}},
"strokeDash":{"field":"s","type":"nominal","scale":{"domain":["Average Profile","Mode A","Mode B","Mode C","Mode D"],"range":[[5.5,2.5],[1,0],[1,0],[1,0],[1,0]]},"legend":{"title":null}}
}}
]
}
